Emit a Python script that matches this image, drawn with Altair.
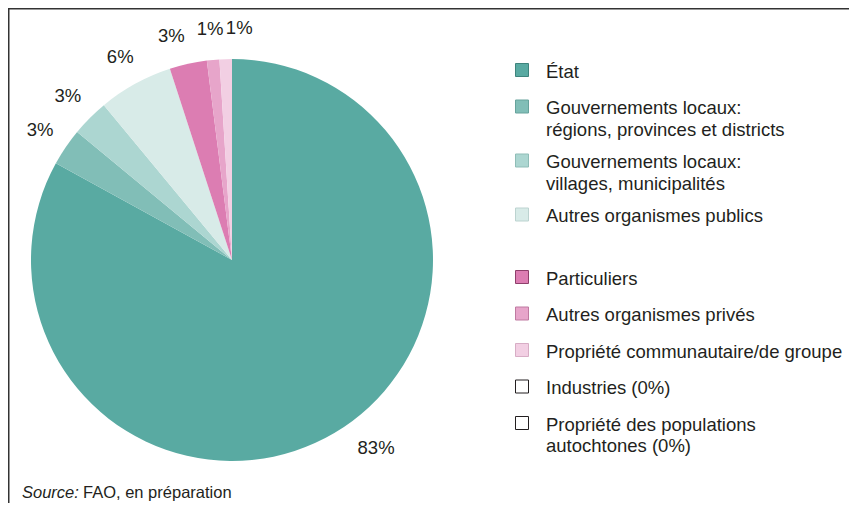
import altair as alt
import pandas as pd

# ---------------- data ----------------
categories = [
    "État",
    "Gouvernements locaux: régions, provinces et districts",
    "Gouvernements locaux: villages, municipalités",
    "Autres organismes publics",
    "Particuliers",
    "Autres organismes privés",
    "Propriété communautaire/de groupe",
    "Industries",
    "Propriété des populations autochtones",
]
shares = [83, 3, 3, 6, 3, 1, 1, 0, 0]
pct_labels = ["83%", "3%", "3%", "6%", "3%", "1%", "1%", "0%", "0%"]
legend_labels = [
    "État",
    "Gouvernements locaux:\nrégions, provinces et districts",
    "Gouvernements locaux:\nvillages, municipalités",
    "Autres organismes publics",
    "Particuliers",
    "Autres organismes privés",
    "Propriété communautaire/de groupe",
    "Industries (0%)",
    "Propriété des populations\nautochtones (0%)",
]
groups = ["public", "public", "public", "public",
          "private", "private", "private", "private", "private"]
source_italic = ["Source:"]
source_rest = ["FAO, en préparation"]

# ---------------- style ----------------
FILLS = ["#59aaa2", "#81beb7", "#acd6d1", "#d8ebe8",
         "#dc7db2", "#e7a5ca", "#f2cfe3", "#ffffff", "#ffffff"]
STROKES = ["#3e847d", "#67a39c", "#8fbdb7", "#bcd3d0",
           "#8e3f6b", "#bf7aa1", "#d7adc5", "#231f20", "#231f20"]
TEXT = "#231f20"
FONT = "Liberation Sans"
FS = 18.5

W, H = 841, 495
CX, CY, R = 224, 252, 201
LABEL_R = 232
total = sum(shares)

df = pd.DataFrame({
    "category": categories,
    "share": shares,
    "pct": pct_labels,
    "idx": list(range(len(categories))),
})

# legend row positions computed from number of text lines and group changes
ROW, EXTRA_LINE, GROUP_GAP, TOP = 36.5, 17.5, 26, 62
yc = []
y = TOP
prev_lines, prev_group = None, None
for lab, g in zip(legend_labels, groups):
    if prev_lines is not None:
        y += ROW + EXTRA_LINE * (prev_lines - 1) + (GROUP_GAP if g != prev_group else 0)
    yc.append(y)
    prev_lines, prev_group = lab.count("\n") + 1, g

leg = pd.DataFrame({"category": categories, "label": legend_labels, "yc": yc})

theta_scale = alt.Scale(domain=[0, total])

arcs = alt.Chart(df).mark_arc(outerRadius=R).encode(
    theta=alt.Theta("share:Q", stack=True, scale=theta_scale),
    color=alt.Color("category:N", scale=alt.Scale(domain=categories, range=FILLS), legend=None),
    order=alt.Order("idx:Q", sort="ascending"),
    x=alt.value(CX),
    y=alt.value(CY),
)

lab_base = alt.Chart(df).transform_window(
    cum="sum(share)", sort=[alt.SortField("idx")], frame=[None, 0]
).transform_calculate(mid="datum.cum - datum.share / 2")


def label_layer(expr, dx=0, dy=0):
    return lab_base.transform_filter(expr).mark_text(
        radius=LABEL_R, fontSize=FS, font=FONT, color=TEXT, dx=dx, dy=dy
    ).encode(
        theta=alt.Theta("mid:Q", stack=False, scale=theta_scale),
        text=alt.Text("pct:N"),
        x=alt.value(CX),
        y=alt.value(CY),
    )


special = [categories[0], categories[4], categories[6]]
labels_main = label_layer(
    "datum.share > 0 && indexof(" + str(special).replace("'", '"') + ", datum.category) < 0"
)
label_etat = label_layer(f'datum.category == "{categories[0]}"', dx=26, dy=-12)
label_part = label_layer(f'datum.category == "{categories[4]}"', dx=-10, dy=2)
label_comm = label_layer(f'datum.category == "{categories[6]}"', dx=14.5)

squares = alt.Chart(leg).mark_square(size=169, opacity=1, strokeWidth=1).encode(
    x=alt.value(514),
    y=alt.Y("yc:Q", scale=None, axis=None),
    fill=alt.Fill("category:N", scale=alt.Scale(domain=categories, range=FILLS), legend=None),
    stroke=alt.Stroke("category:N", scale=alt.Scale(domain=categories, range=STROKES), legend=None),
)

leg_text = alt.Chart(leg).mark_text(
    align="left", baseline="alphabetic", dy=7.5, lineBreak="\n", lineHeight=21.5,
    fontSize=FS, font=FONT, color=TEXT,
).encode(
    x=alt.value(538),
    y=alt.Y("yc:Q", scale=None, axis=None),
    text="label:N",
)

src1 = alt.Chart(pd.DataFrame({"t": source_italic})).mark_text(
    align="left", baseline="alphabetic", fontSize=16.5, font=FONT, fontStyle="italic", color=TEXT
).encode(x=alt.value(14), y=alt.value(490), text="t:N")
src2 = alt.Chart(pd.DataFrame({"t": source_rest})).mark_text(
    align="left", baseline="alphabetic", fontSize=16.5, font=FONT, color=TEXT
).encode(x=alt.value(75), y=alt.value(490), text="t:N")

frame_top = alt.Chart(pd.DataFrame({"a": [0]})).mark_rule(color="#333333", strokeWidth=1.5).encode(
    x=alt.value(0), x2=alt.value(W), y=alt.value(0.75)
)
frame_left = alt.Chart(pd.DataFrame({"a": [0]})).mark_rule(color="#333333", strokeWidth=1.5).encode(
    x=alt.value(0.75), y=alt.value(0), y2=alt.value(H)
)

chart = alt.layer(
    arcs, labels_main, label_etat, label_part, label_comm,
    squares, leg_text, src1, src2, frame_top, frame_left,
).properties(
    width=W, height=H,
    autosize=alt.AutoSizeParams(type="none"),
    padding=0,
).configure_view(stroke=None).configure(background="white")

chart.save("out.html", embed_options={"renderer": "svg", "actions": False})
